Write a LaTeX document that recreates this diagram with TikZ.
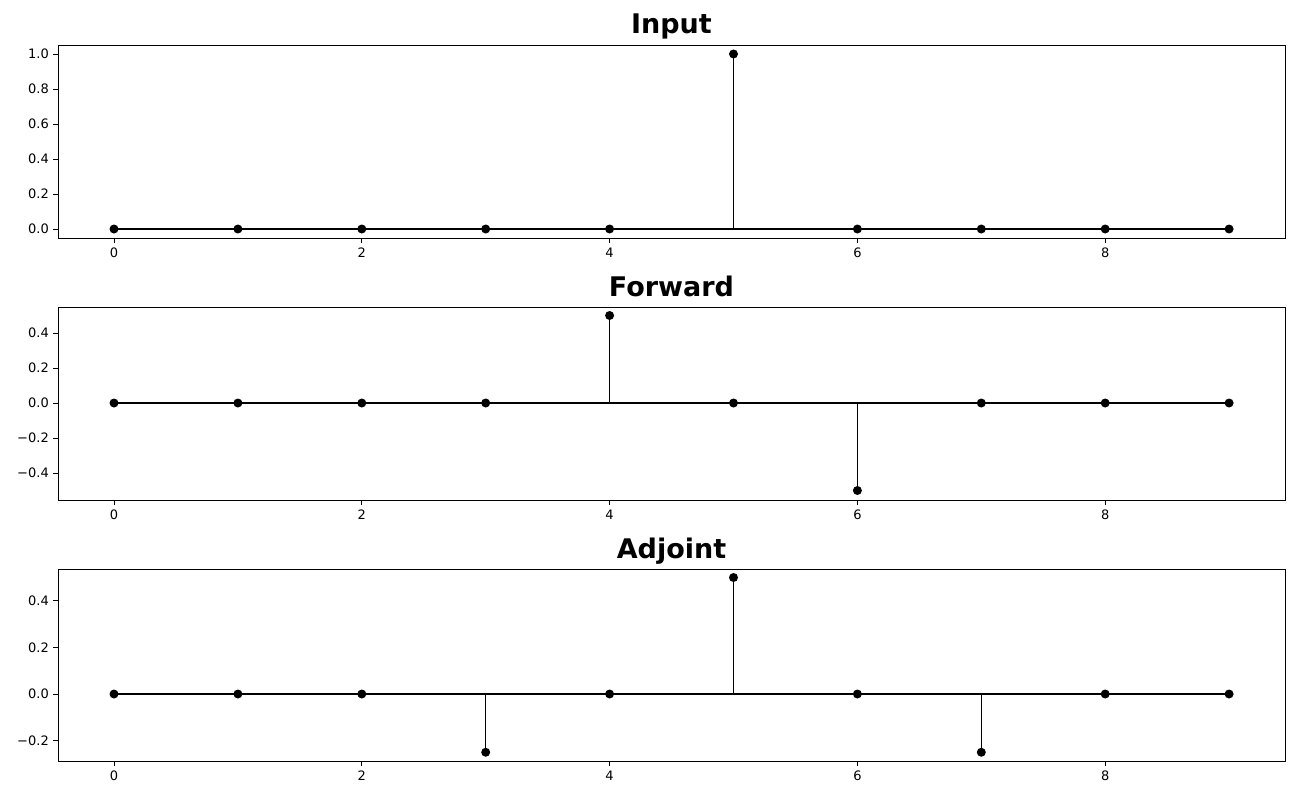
\documentclass[tikz,border=0pt]{standalone}
\usepackage{fontspec}
\setmainfont{DejaVu Sans}
\tikzset{axbox/.style={draw=black,line width=0.8pt},
 stem/.style={draw=black,line width=1.5pt},
 tick/.style={line width=0.8pt},
 ticklab/.style={font=\fontsize{13}{13}\selectfont,inner sep=0pt},
 ttl/.style={font=\fontsize{27}{27}\selectfont\bfseries,inner sep=0pt}}
\newcommand\drawpanel[7]{%
 \draw[axbox] (58,#1) rectangle (1285,#2);
 \node[ttl,anchor=base] (t#7) at (671.5,#1-11) {#7};
 \foreach \i in {0,2,4,6,8}{
   \pgfmathsetmacro\xx{114+123.9*\i}
   \draw[tick] (\xx,#2) -- (\xx,#2+5);
   \node[ticklab,anchor=north] (xl#7\i) at (\xx,#2+10) {\i};}
 \foreach \v/\l in {#6}{
   \pgfmathsetmacro\yy{#3-\v*#4}
   \draw[tick] (58,\yy) -- (53,\yy);
   \node[ticklab,anchor=east] (yl#7\l) at (49,\yy) {\l};}
 \draw[stem] (114,#3) -- (1229,#3);
 \foreach \v [count=\c from 0] in {#5}{
   \pgfmathsetmacro\xx{114+123.9*\c}
   \pgfmathsetmacro\yy{#3-\v*#4}
   \draw[stem] (\xx,#3) -- (\xx,\yy);
   \fill (\xx,\yy) circle (4.5);}
}
\begin{document}
\begin{tikzpicture}[x=1pt,y=-1pt]
\useasboundingbox (0,0) rectangle (1300,800);
\drawpanel{45}{238}{229}{175}{0,0,0,0,0,1,0,0,0,0}{0/0.0,0.2/0.2,0.4/0.4,0.6/0.6,0.8/0.8,1/1.0}{Input}
\drawpanel{307}{500}{403}{175}{0,0,0,0,0.5,0,-0.5,0,0,0}{-0.4/−0.4,-0.2/−0.2,0/0.0,0.2/0.2,0.4/0.4}{Forward}
\drawpanel{569}{761}{694}{233}{0,0,0,-0.25,0,0.5,0,-0.25,0,0}{-0.2/−0.2,0/0.0,0.2/0.2,0.4/0.4}{Adjoint}
\end{tikzpicture}
\end{document}
